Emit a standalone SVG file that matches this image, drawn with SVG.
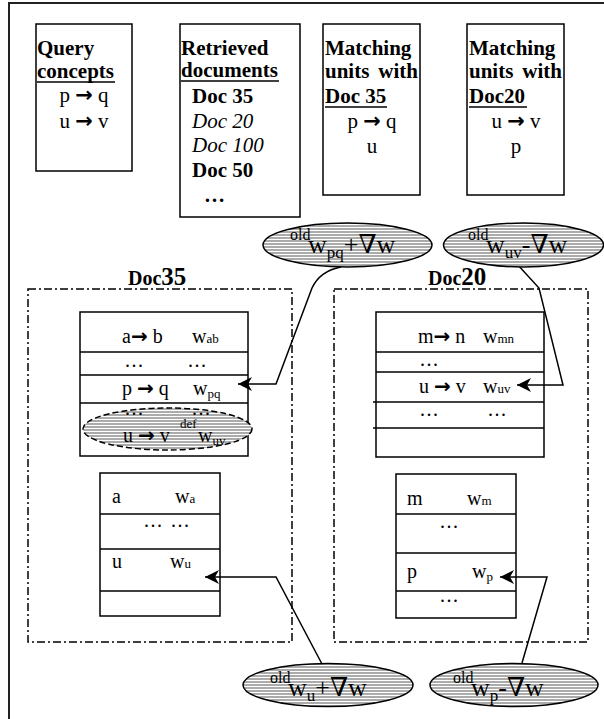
<svg xmlns="http://www.w3.org/2000/svg" width="604" height="719" viewBox="0 0 604 719">
<defs>
<style>
text{font-family:"Liberation Serif","Times New Roman","DejaVu Serif",serif;fill:#000}
.ar{font-family:"DejaVu Sans",sans-serif;font-weight:bold}
.b{font-weight:bold;font-size:21px}
.r{font-size:21px}
.i{font-style:italic;font-size:21px}
.box{fill:#fff;stroke:#000;stroke-width:1.5}
.ul{stroke:#000;stroke-width:1.5}
.frame{fill:none;stroke:#000;stroke-width:1.5;stroke-dasharray:8 3 2 3}
.tl{stroke:#000;stroke-width:1.5}
.t{font-size:20px}
.s{font-size:13px}
.hat{fill:url(#hatch);stroke:#000;stroke-width:1.5}
.dash{stroke-dasharray:6 3}
.sup{font-size:16px}
.big{font-size:26px}
.sub{font-size:17px}
.conn{fill:none;stroke:#000;stroke-width:1.5;marker-end:url(#ah)}
</style>
<pattern id="hatch" patternUnits="userSpaceOnUse" width="8" height="3">
<rect width="8" height="3" fill="#ababab"/>
<rect y="2" width="8" height="1" fill="#fff"/>
</pattern>
<marker id="ah" markerUnits="userSpaceOnUse" viewBox="0 0 14 14" refX="14" refY="7" markerWidth="14" markerHeight="14" orient="auto">
<path d="M0,0 L14,7 L0,14 L4,7 z" fill="#000"/>
</marker>
</defs>
<rect width="604" height="719" fill="#fff"/>
<path d="M9,719 V3 H604" fill="none" stroke="#222" stroke-width="2"/>

<g id="query">
<rect class="box" x="36" y="24" width="96" height="147"/>
<text class="b" x="37" y="55">Query</text>
<text class="b" x="37" y="78">concepts</text>
<line class="ul" x1="37" y1="82" x2="115" y2="82"/>
<text class="r" x="84" y="102" text-anchor="middle">p <tspan class="ar">→</tspan> q</text>
<text class="r" x="84" y="128" text-anchor="middle">u <tspan class="ar">→</tspan> v</text>
</g>

<g id="retrieved">
<rect class="box" x="180" y="24" width="120" height="193"/>
<text class="b" x="181" y="55">Retrieved</text>
<text class="b" x="181" y="77">documents</text>
<line class="ul" x1="181" y1="81" x2="279" y2="81"/>
<text class="b" x="192" y="103">Doc 35</text>
<text class="i" x="192" y="128">Doc 20</text>
<text class="i" x="192" y="152">Doc 100</text>
<text class="b" x="192" y="177">Doc 50</text>
<text class="b" x="204" y="202">…</text>
</g>

<g id="match35">
<rect class="box" x="323" y="24" width="97" height="171"/>
<text class="b" x="325" y="55">Matching</text>
<text class="b" x="325" y="78">units</text>
<text class="b" x="418" y="78" text-anchor="end">with</text>
<text class="b" x="325" y="103">Doc 35</text>
<line class="ul" x1="325" y1="107" x2="387" y2="107"/>
<text class="r" x="372" y="128" text-anchor="middle">p <tspan class="ar">→</tspan> q</text>
<text class="r" x="372" y="153" text-anchor="middle">u</text>
</g>

<g id="match20">
<rect class="box" x="467" y="24" width="97" height="171"/>
<text class="b" x="469" y="55">Matching</text>
<text class="b" x="469" y="78">units</text>
<text class="b" x="562" y="78" text-anchor="end">with</text>
<text class="b" x="469" y="103">Doc20</text>
<line class="ul" x1="469" y1="107" x2="527" y2="107"/>
<text class="r" x="516" y="128" text-anchor="middle">u <tspan class="ar">→</tspan> v</text>
<text class="r" x="516" y="153" text-anchor="middle">p</text>
</g>

<g id="doc35">
<rect class="frame" x="28" y="289" width="264" height="353"/>
<text class="b" x="128" y="285" style="font-size:20px">Doc<tspan style="font-size:25px">35</tspan></text>
<g id="doc35-rules">
<rect class="box" x="80" y="312" width="168" height="144"/>
<line class="tl" x1="80" y1="352" x2="248" y2="352"/>
<line class="tl" x1="80" y1="375" x2="248" y2="375"/>
<line class="tl" x1="80" y1="403" x2="248" y2="403"/>
<text class="t" x="122" y="343">a<tspan class="ar">→</tspan> b</text>
<text class="t" x="192" y="343">w<tspan class="s">ab</tspan></text>
<text class="t" x="125" y="367" letter-spacing="1.5">...</text>
<text class="t" x="188" y="367" letter-spacing="1.5">...</text>
<text class="t" x="122" y="395">p <tspan class="ar">→</tspan> q</text>
<text class="t" x="193" y="395">w<tspan class="s" dy="3">pq</tspan></text>
<ellipse class="hat dash" cx="167.5" cy="429" rx="84.5" ry="21"/>
<text class="t" x="125" y="415" letter-spacing="1.5">...</text>
<text class="t" x="192" y="415" letter-spacing="1.5">...</text>
<text class="t" x="123" y="442">u <tspan class="ar">→</tspan> v</text>
<text class="s" x="180" y="428">def</text>
<text class="t" x="198" y="442">w<tspan class="s" dy="3">uv</tspan></text>
</g>
<g id="doc35-units">
<rect class="box" x="100" y="473" width="120" height="143"/>
<line class="tl" x1="100" y1="514" x2="220" y2="514"/>
<line class="tl" x1="100" y1="549" x2="220" y2="549"/>
<line class="tl" x1="100" y1="591" x2="220" y2="591"/>
<text class="t" x="112" y="503">a</text>
<text class="t" x="175" y="503">w<tspan class="s">a</tspan></text>
<text class="t" x="144" y="527" letter-spacing="1.5">...</text>
<text class="t" x="171" y="527" letter-spacing="1.5">...</text>
<text class="t" x="112" y="568">u</text>
<text class="t" x="170" y="568">w<tspan class="s">u</tspan></text>
</g>
</g>

<g id="doc20">
<rect class="frame" x="334" y="289" width="254" height="353"/>
<text class="b" x="428" y="285" style="font-size:20px">Doc<tspan style="font-size:25px">20</tspan></text>
<g id="doc20-rules">
<rect class="box" x="376" y="312" width="168" height="145"/>
<line class="tl" x1="376" y1="352" x2="544" y2="352"/>
<line class="tl" x1="376" y1="372" x2="544" y2="372"/>
<line class="tl" x1="373" y1="402" x2="544" y2="402"/>
<line class="tl" x1="373" y1="428" x2="544" y2="428"/>
<text class="t" x="418" y="343">m<tspan class="ar">→</tspan> n</text>
<text class="t" x="483" y="343">w<tspan class="s">mn</tspan></text>
<text class="t" x="420" y="366" letter-spacing="1.5">...</text>
<text class="t" x="419" y="393">u <tspan class="ar">→</tspan> v</text>
<text class="t" x="483" y="393">w<tspan class="s">uv</tspan></text>
<text class="t" x="420" y="416" letter-spacing="1.5">...</text>
<text class="t" x="488" y="416" letter-spacing="1.5">...</text>
</g>
<g id="doc20-units">
<rect class="box" x="396" y="474" width="120" height="144"/>
<line class="tl" x1="396" y1="514" x2="516" y2="514"/>
<line class="tl" x1="396" y1="553" x2="516" y2="553"/>
<line class="tl" x1="396" y1="591" x2="516" y2="591"/>
<text class="t" x="407" y="505">m</text>
<text class="t" x="467" y="505">w<tspan class="s">m</tspan></text>
<text class="t" x="440" y="528" letter-spacing="1.5">...</text>
<text class="t" x="407" y="578">p</text>
<text class="t" x="472" y="578">w<tspan class="s" dy="3">p</tspan></text>
<text class="t" x="440" y="602" letter-spacing="1.5">...</text>
</g>
</g>

<g id="connectors">
<path class="conn" d="M341,267 Q320,271 312,288 L276,384 L238,384"/>
<path class="conn" d="M517,264 L539,288 L563,385 L517,385"/>
<path class="conn" d="M322,664 L276,577 L205,577"/>
<path class="conn" d="M522,663 L547,577 L500,577"/>
</g>

<g id="upd-wpq">
<ellipse class="hat" cx="347.5" cy="245" rx="84.5" ry="22"/>
<text class="sup" x="290" y="240">old</text>
<text class="big" x="308" y="253">w<tspan class="sub" dy="5">pq</tspan><tspan dy="-5">+∇w</tspan></text>
</g>
<g id="upd-wuv">
<ellipse class="hat" cx="523.5" cy="245" rx="80" ry="22"/>
<text class="sup" x="468" y="240">old</text>
<text class="big" x="486" y="253">w<tspan class="sub" dy="5">uv</tspan><tspan dy="-5">-∇w</tspan></text>
</g>
<g id="upd-wu">
<ellipse class="hat" cx="328" cy="685" rx="85" ry="21.5"/>
<text class="sup" x="270" y="683">old</text>
<text class="big" x="288" y="696">w<tspan class="sub" dy="5">u</tspan><tspan dy="-5">+∇w</tspan></text>
</g>
<g id="upd-wp">
<ellipse class="hat" cx="514" cy="685" rx="84" ry="21.5"/>
<text class="sup" x="453" y="683">old</text>
<text class="big" x="471" y="696">w<tspan class="sub" dy="5">p</tspan><tspan dy="-5">-∇w</tspan></text>
</g>
</svg>
